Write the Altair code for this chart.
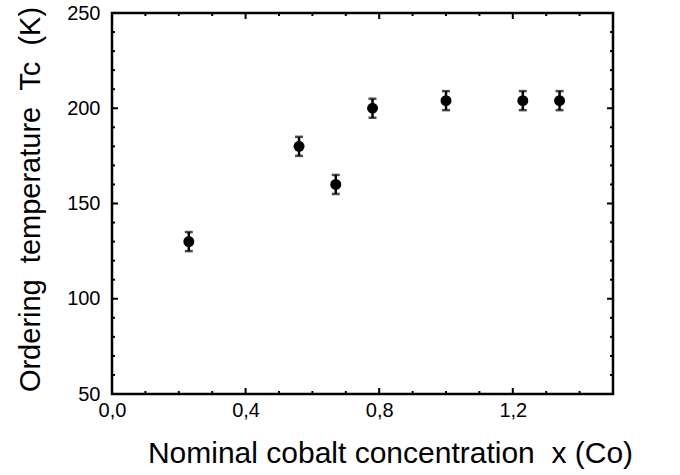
import altair as alt
import pandas as pd

# Data
x_conc = [0.23, 0.56, 0.67, 0.78, 1.00, 1.23, 1.34]
tc = [130, 180, 160, 200, 204, 204, 204]
err = [5, 5, 5, 5, 5, 5, 5]

x_major = [0.0, 0.4, 0.8, 1.2]
x_minor = [0.1, 0.2, 0.3, 0.5, 0.6, 0.7, 0.9, 1.0, 1.1, 1.3, 1.4]
y_major = [50, 100, 150, 200, 250]
y_minor = [v for v in range(60, 250, 10) if v % 50 != 0]

W, H = 501, 381
FONT = "Liberation Sans"

df = pd.DataFrame({"x": x_conc, "tc": tc,
                   "lo": [t - e for t, e in zip(tc, err)],
                   "hi": [t + e for t, e in zip(tc, err)]})

xs = alt.Scale(domain=[0, 1.5], nice=False, zero=False)
ys = alt.Scale(domain=[50, 250], nice=False, zero=False)

x_axis = alt.Axis(values=x_major, grid=False, ticks=False, domain=False,
                  labelExpr="replace(format(datum.value, '.1f'), '.', ',')",
                  labelFontSize=20, labelFont=FONT, labelColor="black",
                  labelPadding=6, labelFlush=False,
                  title="Nominal cobalt concentration\u00a0\u00a0x (Co)",
                  titleFontSize=30, titleFont=FONT, titleFontWeight="normal",
                  titleColor="black", titlePadding=18,
                  titleX=278, titleAlign="center")
y_axis = alt.Axis(values=y_major, grid=False, ticks=False, domain=False,
                  labelFontSize=20, labelFont=FONT, labelColor="black",
                  labelPadding=12, labelFlush=False,
                  title="Ordering\u00a0\u00a0temperature\u00a0\u00a0Tc\u00a0\u00a0(K)",
                  titleFontSize=29, titleFont=FONT, titleFontWeight="normal",
                  titleColor="black", titlePadding=21,
                  titleY=186, titleAlign="center")

X = lambda f: alt.X(f, scale=xs, axis=x_axis, title=x_axis.title)
Y = lambda f: alt.Y(f, scale=ys, axis=y_axis, title=y_axis.title)

points = alt.Chart(df).mark_circle(size=120, color="black", opacity=1).encode(
    x=X("x:Q"), y=Y("tc:Q"))
bars = alt.Chart(df).mark_rule(color="black", strokeWidth=2.5).encode(
    x=X("x:Q"), y=Y("lo:Q"), y2="hi:Q")
caps_lo = alt.Chart(df).mark_tick(color="black", thickness=2.5, size=8, orient="horizontal").encode(
    x=X("x:Q"), y=Y("lo:Q"))
caps_hi = alt.Chart(df).mark_tick(color="black", thickness=2.5, size=8, orient="horizontal").encode(
    x=X("x:Q"), y=Y("hi:Q"))

def xticks(vals, length):
    d = pd.DataFrame({"x": vals})
    bottom = alt.Chart(d).mark_rule(color="black", strokeWidth=2).encode(
        x=X("x:Q"), y=alt.value(H), y2=alt.value(H - length))
    top = alt.Chart(d).mark_rule(color="black", strokeWidth=2).encode(
        x=X("x:Q"), y=alt.value(0), y2=alt.value(length))
    return [bottom, top]

def yticks(vals, length):
    d = pd.DataFrame({"tc": vals})
    left = alt.Chart(d).mark_rule(color="black", strokeWidth=2).encode(
        y=Y("tc:Q"), x=alt.value(0), x2=alt.value(length))
    right = alt.Chart(d).mark_rule(color="black", strokeWidth=2).encode(
        y=Y("tc:Q"), x=alt.value(W), x2=alt.value(W - length))
    return [left, right]

layers = ([points, bars, caps_lo, caps_hi] +
          xticks(x_major, 6) + xticks(x_minor, 3) +
          yticks(y_major, 6) + yticks(y_minor, 3))

chart = alt.layer(*layers).properties(
    width=W, height=H,
    padding={"left": 112, "top": 13, "right": 67, "bottom": 81},
    autosize="none",
    background="white",
).configure_view(stroke="black", strokeWidth=2.5)

chart.save("out.html", embed_options={"renderer": "svg", "actions": False})
